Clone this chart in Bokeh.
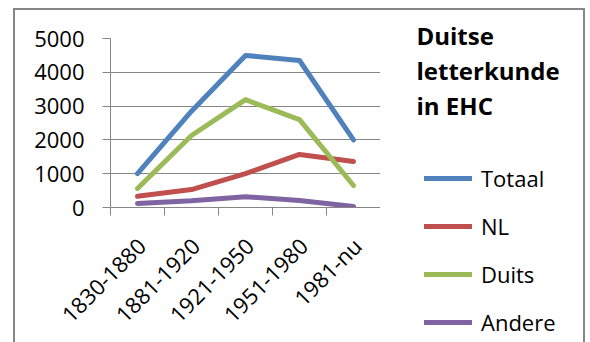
from bokeh.plotting import figure
from bokeh.layouts import row
from bokeh.models import Range1d, FixedTicker, Legend, LegendItem, Label
from bokeh.embed import file_html
from bokeh.resources import INLINE

# Periods and number of titles per language group
periods = ["1830-1880", "1881-1920", "1921-1950", "1951-1980", "1981-nu"]
totaal = [1000, 2850, 4500, 4350, 2000]
nl = [330, 530, 1000, 1570, 1360]
duits = [560, 2130, 3190, 2600, 650]
andere = [120, 200, 320, 210, 30]
y_ticks = [0, 1000, 2000, 3000, 4000, 5000]

series_names = ["Totaal", "NL", "Duits", "Andere"]
series_values = [totaal, nl, duits, andere]
series_colors = ["#4F81BD", "#C0504D", "#9BBB59", "#8064A2"]

FONT = "Open Sans"
GRID = "#868686"

# each period sits in the middle of its own slot; slot edges carry the ticks
centers = [i + 0.5 for i in range(len(periods))]
edges = list(range(len(periods) + 1))
label_pos = [round(c + 0.07, 2) for c in centers]

# ---- chart panel -------------------------------------------------------
p = figure(width=380, height=342, output_backend="svg", toolbar_location=None,
           x_range=Range1d(0, len(periods)), y_range=Range1d(y_ticks[0], y_ticks[-1]),
           min_border_left=110, min_border_right=0, min_border_top=38,
           min_border_bottom=135, background_fill_color="white",
           border_fill_color=None)
p.frame_align = False
p.outline_line_color = None

p.xgrid.visible = False
p.ygrid.grid_line_color = GRID
p.ygrid.grid_line_width = 1

yax = p.yaxis[0]
yax.ticker = FixedTicker(ticks=y_ticks)
yax.axis_line_color = GRID
yax.major_tick_line_color = GRID
yax.major_tick_out = 8
yax.major_tick_in = 0
yax.minor_tick_line_color = None
yax.major_label_text_font = FONT
yax.major_label_text_font_size = "22px"
yax.major_label_text_color = "black"
yax.major_label_standoff = 18

xax = p.xaxis[0]
xax.ticker = FixedTicker(ticks=label_pos, minor_ticks=edges)
xax.major_label_overrides = {c: lab for c, lab in zip(label_pos, periods)}
xax.axis_line_color = GRID
xax.major_tick_line_color = None
xax.major_tick_out = 8
xax.major_tick_in = 0
xax.minor_tick_line_color = GRID
xax.minor_tick_out = 8
xax.minor_tick_in = 0
xax.major_label_orientation = 0.785398
xax.major_label_text_font = FONT
xax.major_label_text_font_size = "22px"
xax.major_label_text_color = "black"
xax.major_label_standoff = 26

for vals, col in zip(series_values, series_colors):
    p.line(centers, vals, line_color=col, line_width=5,
           line_cap="round", line_join="round")

# ---- legend panel ------------------------------------------------------
# the series are repeated here (outside the visible range) only so the
# legend has renderers to draw its swatches from
side = figure(width=210, height=342, output_backend="svg", toolbar_location=None,
              x_range=Range1d(-2, -1), y_range=Range1d(y_ticks[0], y_ticks[-1]),
              x_axis_location=None, y_axis_location=None,
              min_border_left=0, min_border_right=0, min_border_top=0,
              min_border_bottom=0, background_fill_color=None,
              border_fill_color=None)
side.frame_align = False
side.outline_line_color = None
side.xgrid.visible = False
side.ygrid.visible = False

items = []
for name, vals, col in zip(series_names, series_values, series_colors):
    r = side.line(centers, vals, line_color=col, line_width=5, line_cap="round")
    items.append(LegendItem(label=name, renderers=[r]))

legend = Legend(items=items, location=(44, 5), padding=0, margin=0,
                spacing=18, glyph_width=48, glyph_height=30, label_height=30,
                label_standoff=9, label_text_font=FONT,
                label_text_font_size="22px", label_text_color="black",
                border_line_color=None, background_fill_alpha=0)
side.add_layout(legend, "center")

title = Label(x=36, y=324, x_units="screen", y_units="screen",
              text="Duitse\nletterkunde\nin EHC", text_font=FONT,
              text_font_style="bold", text_font_size="24px",
              text_baseline="top", text_align="left", text_color="black",
              text_line_height=1.07)
side.add_layout(title)

# chart-area border around both panels
line_img = "linear-gradient(#868686, #868686)"
layout = row(p, side, styles={
    "background-color": "white",
    "background-image": ", ".join([line_img] * 3),
    "background-position": "13px 8px, 13px 8px, 583px 8px",
    "background-size": "2px 400px, 572px 2px, 2px 400px",
    "background-repeat": "no-repeat",
})

open("out.html", "w").write(file_html(layout, INLINE))
